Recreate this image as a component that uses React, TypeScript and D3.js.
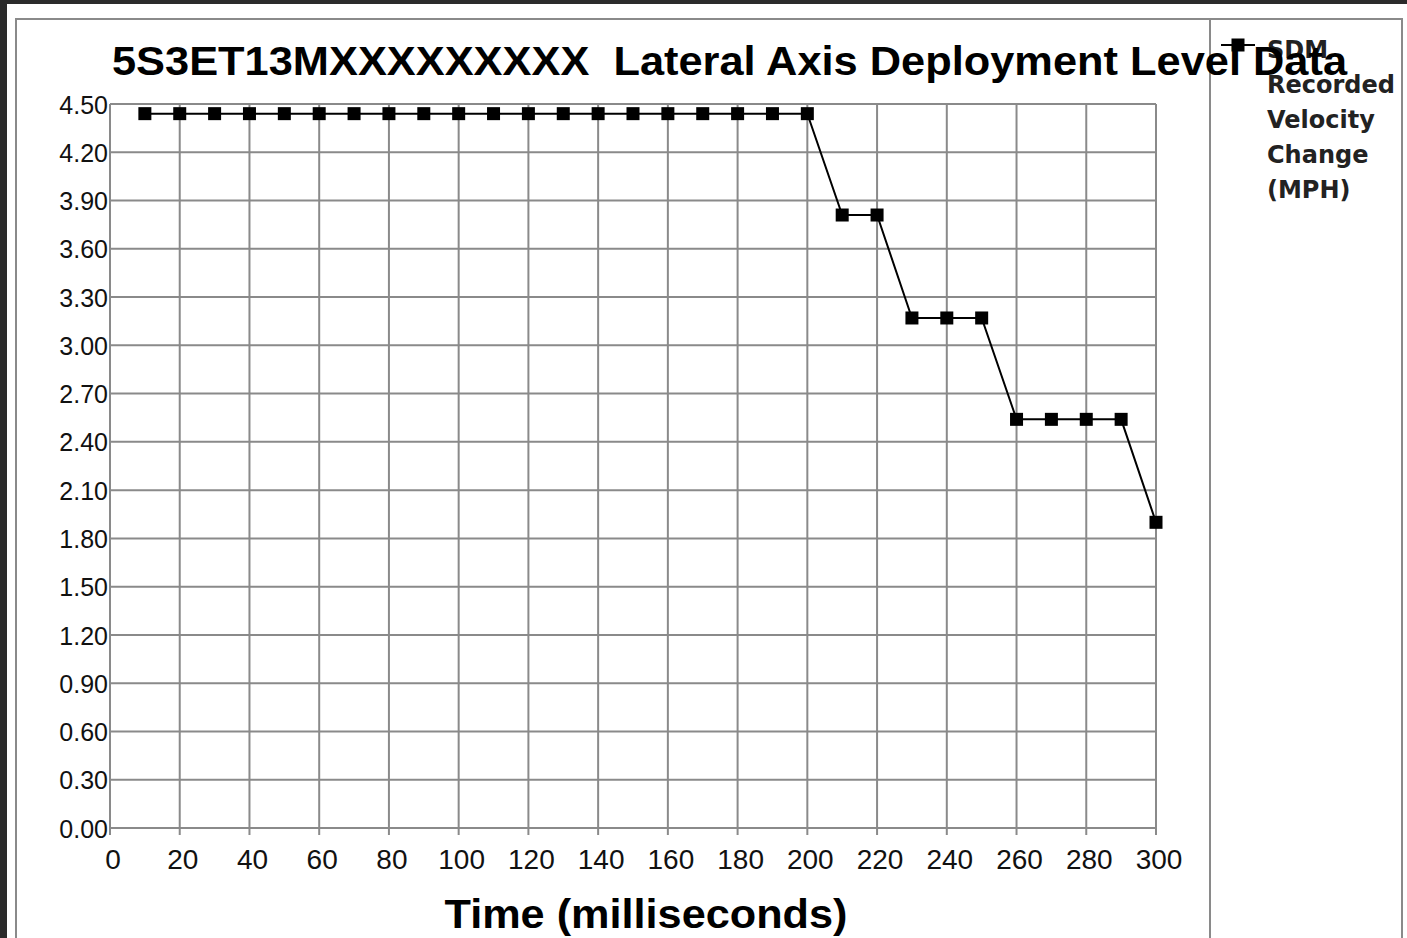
import React from "react";
import * as d3 from "d3";

const times: number[] = [10, 20, 30, 40, 50, 60, 70, 80, 90, 100, 110, 120, 130, 140, 150, 160, 170, 180, 190, 200, 210, 220, 230, 240, 250, 260, 270, 280, 290, 300];
const velocity: number[] = [4.44, 4.44, 4.44, 4.44, 4.44, 4.44, 4.44, 4.44, 4.44, 4.44, 4.44, 4.44, 4.44, 4.44, 4.44, 4.44, 4.44, 4.44, 4.44, 4.44, 3.81, 3.81, 3.17, 3.17, 3.17, 2.54, 2.54, 2.54, 2.54, 1.9];
const xTicks: number[] = [0, 20, 40, 60, 80, 100, 120, 140, 160, 180, 200, 220, 240, 260, 280, 300];
const yTicks: number[] = [0, 0.3, 0.6, 0.9, 1.2, 1.5, 1.8, 2.1, 2.4, 2.7, 3.0, 3.3, 3.6, 3.9, 4.2, 4.5];
const titleText = "5S3ET13MXXXXXXXXX  Lateral Axis Deployment Level Data";
const xAxisTitle = "Time (milliseconds)";
const legendLines: string[] = ["SDM", "Recorded", "Velocity", "Change", "(MPH)"];

const W = 1407;
const H = 938;
const plot = { left: 110, right: 1156, top: 104, bottom: 828 };
const GRID = "#8a8a8a";
const FONT = "'Liberation Sans', Arial, sans-serif";

export default function App() {
  const x = d3.scaleLinear().domain([0, 300]).range([plot.left, plot.right]);
  const y = d3.scaleLinear().domain([0, 4.5]).range([plot.bottom, plot.top]);
  const pts = times.map((t, i) => [t, velocity[i]] as [number, number]);
  const line = d3
    .line<[number, number]>()
    .x((d) => x(d[0]))
    .y((d) => y(d[1]))(pts) as string;
  const ms = 13;

  return (
    <svg
      width={W}
      height={H}
      style={{ position: "absolute", left: 0, top: 0, display: "block", background: "#fff" }}
    >
      {/* dark outer border */}
      <rect x={0} y={0} width={W} height={4} fill="#2b2b2b" />
      <rect x={0} y={0} width={7} height={H} fill="#2b2b2b" />
      {/* outer frame */}
      <rect x={16} y={19} width={1386} height={H} fill="none" stroke={GRID} strokeWidth={2} />
      <line x1={1210} x2={1210} y1={19} y2={H} stroke={GRID} strokeWidth={2} />

      {/* grid */}
      {yTicks.map((v) => (
        <line key={"gy" + v} x1={plot.left} x2={plot.right} y1={y(v)} y2={y(v)} stroke={GRID} strokeWidth={2} />
      ))}
      {xTicks.map((v) => (
        <line key={"gx" + v} x1={x(v)} x2={x(v)} y1={plot.top} y2={plot.bottom + 7} stroke={GRID} strokeWidth={2} />
      ))}

      {/* y labels */}
      {yTicks.map((v) => (
        <text
          key={"ly" + v}
          x={plot.left - 2}
          y={y(v) + 3}
          textAnchor="end"
          dominantBaseline="middle"
          fontFamily={FONT}
          fontSize={25}
          fill="#111"
        >
          {d3.format(".2f")(v)}
        </text>
      ))}
      {/* x labels */}
      {xTicks.map((v) => (
        <text
          key={"lx" + v}
          x={x(v) + 3}
          y={869}
          textAnchor="middle"
          fontFamily={FONT}
          fontSize={28}
          fill="#111"
        >
          {v}
        </text>
      ))}

      {/* data */}
      <path d={line} fill="none" stroke="#000" strokeWidth={2} />
      {pts.map((d, i) => (
        <rect key={"m" + i} x={x(d[0]) - ms / 2} y={y(d[1]) - ms / 2} width={ms} height={ms} fill="#000" />
      ))}

      {/* legend */}
      <line x1={1221} x2={1255} y1={45} y2={45} stroke="#000" strokeWidth={2} />
      <rect x={1238 - ms / 2} y={45 - ms / 2} width={ms} height={ms} fill="#000" />
      {legendLines.map((s, i) => (
        <text
          key={"lg" + i}
          x={1267}
          y={58 + i * 35}
          fontFamily="'DejaVu Sans', Verdana, sans-serif"
          fontWeight="bold"
          fontSize={24}
          fill="#222"
        >
          {s}
        </text>
      ))}

      {/* title */}
      <text
        x={112}
        y={75}
        fontFamily={FONT}
        fontWeight="bold"
        fontSize={40}
        textLength={1235}
        lengthAdjust="spacingAndGlyphs"
        fill="#000"
        style={{ whiteSpace: "pre" }}
      >
        {titleText}
      </text>

      {/* x axis title */}
      <text
        x={646}
        y={928}
        textAnchor="middle"
        fontFamily={FONT}
        fontWeight="bold"
        fontSize={40}
        textLength={403}
        lengthAdjust="spacingAndGlyphs"
        fill="#000"
      >
        {xAxisTitle}
      </text>
    </svg>
  );
}
